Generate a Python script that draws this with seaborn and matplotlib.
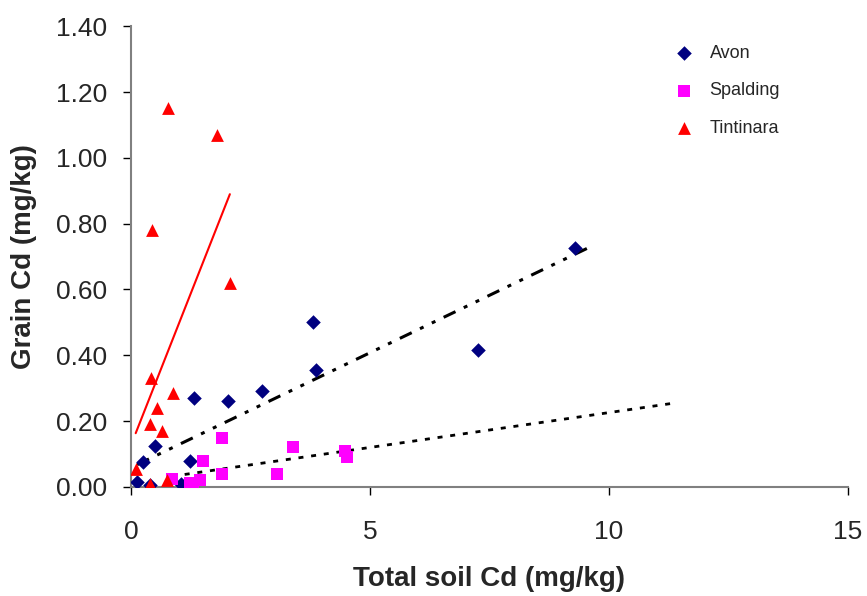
import numpy as np
import pandas as pd
import matplotlib
matplotlib.use("Agg")
import matplotlib.pyplot as plt
import seaborn as sns

# Data
avon_x = [0.13, 0.25, 0.4, 0.5, 1.05, 1.23, 1.32, 2.03, 2.74, 3.8, 3.87, 7.26, 9.29]
avon_y = [0.015, 0.077, 0.005, 0.125, 0.01, 0.08, 0.27, 0.26, 0.29, 0.50, 0.355, 0.415, 0.725]

spalding_x = [0.86, 1.23, 1.3, 1.45, 1.5, 1.9, 1.9, 3.05, 3.4, 4.48, 4.52]
spalding_y = [0.025, 0.012, 0.01, 0.02, 0.08, 0.15, 0.04, 0.04, 0.12, 0.11, 0.09]

tintinara_x = [0.1, 0.4, 0.75, 0.4, 0.65, 0.54, 0.88, 0.42, 0.78, 1.8, 0.44, 2.07]
tintinara_y = [0.055, 0.01, 0.02, 0.19, 0.17, 0.24, 0.285, 0.33, 1.15, 1.07, 0.78, 0.62]

sites = ["Avon", "Spalding", "Tintinara"]
trend_x_end = [9.56, 11.42, 2.07]

df = pd.DataFrame({
    "soil": avon_x + spalding_x + tintinara_x,
    "grain": avon_y + spalding_y + tintinara_y,
    "site": ["Avon"] * len(avon_x) + ["Spalding"] * len(spalding_x) + ["Tintinara"] * len(tintinara_x),
})

colors = {"Avon": "#000080", "Spalding": "#FF00FF", "Tintinara": "#FF0000"}
markers = {"Avon": "D", "Spalding": "s", "Tintinara": "^"}
sizes = {"Avon": 55, "Spalding": 70, "Tintinara": 85}
line_styles = {"Avon": (0, (4.3, 3, 1.3, 3, 1.3, 3)), "Spalding": (0, (1.8, 2.8)), "Tintinara": "-"}
line_colors = {"Avon": "black", "Spalding": "black", "Tintinara": "#FF0000"}
line_widths = {"Avon": 2.2, "Spalding": 2.0, "Tintinara": 1.5}

sns.set_style("white")
plt.rcParams['font.family'] = ['Liberation Sans', 'DejaVu Sans']

fig = plt.figure(figsize=(8.67, 5.96), dpi=100)
ax = fig.add_axes([0.151, 0.183, 0.827, 0.773])

# Linear trendlines (least squares, like the spreadsheet trendline)
for site, x_end in zip(sites, trend_x_end):
    sub = df[df["site"] == site]
    slope, intercept = np.polyfit(sub["soil"], sub["grain"], 1)
    xs = np.array([sub["soil"].min(), x_end])
    ax.plot(xs, slope * xs + intercept, color=line_colors[site],
            linestyle=line_styles[site], linewidth=line_widths[site], zorder=1)

for site in sites:
    sub = df[df["site"] == site]
    sns.scatterplot(data=sub, x="soil", y="grain", marker=markers[site],
                    color=colors[site], s=sizes[site], edgecolor=colors[site],
                    linewidth=0, label=site, ax=ax, zorder=3)

ax.set_xlim(0, 15)
ax.set_ylim(0, 1.40)
ax.set_xticks([0, 5, 10, 15])
ax.set_yticks(np.arange(0, 1.41, 0.2))
ax.set_yticklabels([f"{v:.2f}" for v in np.arange(0, 1.41, 0.2)])

for side in ["top", "right"]:
    ax.spines[side].set_visible(False)
for side in ["left", "bottom"]:
    ax.spines[side].set_color("#808080")
    ax.spines[side].set_linewidth(1.5)

ax.tick_params(axis="both", which="major", direction="out", length=6, width=1,
               color="black", labelsize=19, left=True, bottom=True)
ax.tick_params(axis="x", pad=18)
ax.tick_params(axis="y", pad=11)

ax.set_xlabel("Total soil Cd (mg/kg)", fontsize=20, fontweight="bold", labelpad=16)
ax.set_ylabel("Grain Cd (mg/kg)", fontsize=20, fontweight="bold", labelpad=14)

leg = ax.legend(loc="upper right", bbox_to_anchor=(0.928, 0.995), frameon=False,
                fontsize=13, labelspacing=1.14, handletextpad=0.4, markerscale=1.0)

fig.savefig("out.png", dpi=100)
